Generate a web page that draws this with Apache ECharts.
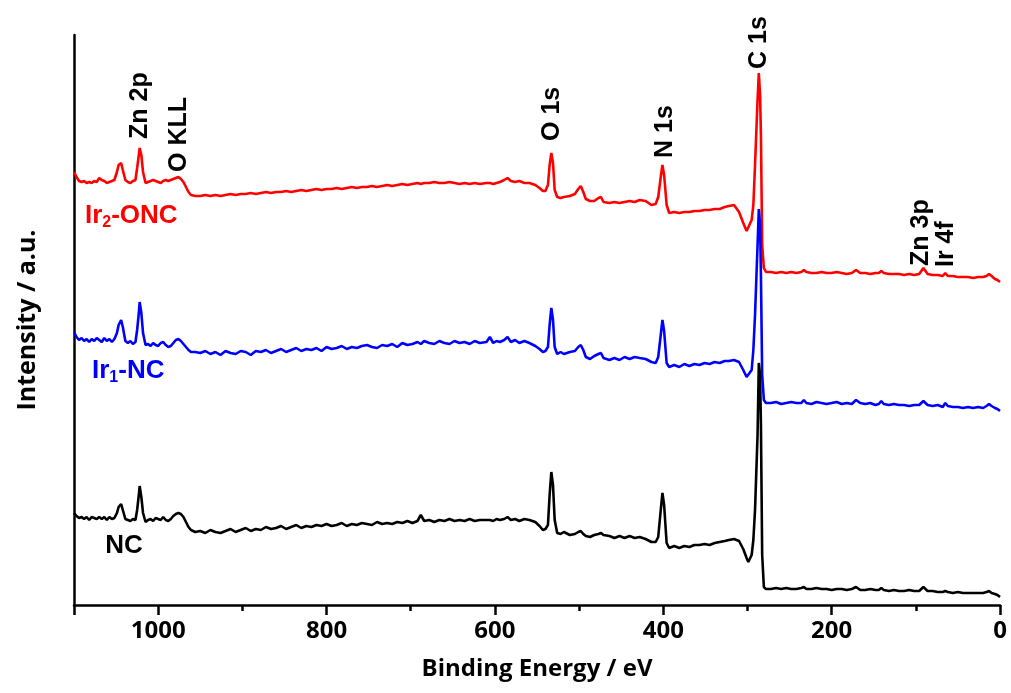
<!DOCTYPE html>
<html>
<head>
<meta charset="utf-8">
<script src="https://cdn.jsdelivr.net/npm/echarts@6/dist/echarts.min.js"></script>
<style>
  html, body { margin: 0; padding: 0; background: #fff; }
  #chart { width: 1011px; height: 693px; }
</style>
</head>
<body>
<div id="chart"></div>
<script>
// XPS survey spectra; binding energy (eV) shared by all three samples
const energy = [
  1100, 1097, 1094, 1091, 1088, 1085, 1082, 1079, 1076, 1073, 1070, 1067, 1064, 1061, 1058, 1055, 1052,
  1049, 1047, 1044, 1042, 1039, 1036, 1033, 1030, 1027, 1025, 1023, 1022, 1020, 1018, 1015,
  1012, 1009, 1006, 1003, 1000, 997, 994, 991, 988, 985, 982, 979, 976, 973, 970, 967, 964, 961,
  956, 950, 944, 938, 932, 926, 920, 914, 908, 902, 896, 890, 884, 878, 872, 866, 860, 854, 848, 842,
  836, 830, 824, 818, 812, 806, 800, 794, 788, 782, 776, 770, 764, 758, 752, 746, 740, 734, 728, 722,
  716, 710, 704, 698, 692, 688, 684, 678, 672, 666, 660, 654, 648, 642, 636, 630, 624, 618,
  610, 606, 602, 598, 594, 589, 585, 581, 576, 571, 565, 559, 552, 547, 543, 540, 537, 535, 533, 531,
  529, 526, 522, 518, 511, 505, 501, 498, 495, 492, 487, 482, 477, 474, 471, 464, 458, 452, 446, 440,
  434, 428, 421, 414, 409, 406, 403, 401, 399, 396, 393, 387, 381, 375, 369, 363, 357, 351, 345, 339,
  333, 327, 322, 316, 310, 305, 301, 299, 295, 293, 291, 288, 286.5, 285, 284, 282.5, 280.5, 278,
  272, 266, 260, 254, 248, 242, 236, 233, 230, 224, 218, 212, 206, 200, 194, 188, 182, 176, 171, 166,
  160, 154, 148, 144, 141, 138, 132, 126, 120, 114, 108, 102, 96, 91, 86, 80, 74, 68, 65, 62,
  56, 50, 44, 38, 32, 26, 20, 16, 13, 10, 6, 3, 0
];

// Intensities (a.u.), vertically offset so the spectra are stacked
const ir2ONC = [
  433, 428, 424, 423, 424, 422, 423, 422, 424, 423, 427, 425, 424, 422, 423, 424, 425,
  433, 440, 442, 435, 425, 423, 422, 424, 425, 437, 450, 457, 450, 433, 422,
  423, 424, 425, 424, 423, 422, 424, 425, 424, 425, 426, 427, 428, 426, 423, 418, 413, 410,
  409, 409, 410, 409, 410, 409, 410, 411, 410, 411, 411, 412, 411, 412, 413, 412, 413, 413, 414, 413,
  414, 415, 414, 415, 416, 415, 416, 416, 417, 416, 417, 418, 417, 418, 418, 419, 418, 419, 420, 419,
  420, 421, 420, 421, 422, 421, 422, 422, 423, 422, 422, 423, 422, 421, 422, 421, 422, 421,
  422, 422, 421, 422, 423, 425, 427, 424, 423, 424, 422, 422, 420, 417, 414, 414, 420, 440, 452, 442,
  415, 408, 407, 408, 409, 411, 416, 419, 413, 406, 404, 404, 407, 408, 403, 402, 403, 402, 403, 404,
  403, 405, 404, 400, 401, 408, 428, 440, 430, 400, 392, 393, 392, 393, 393, 394, 394, 395, 395, 396,
  396, 398, 399, 400, 393, 382, 374, 375, 385, 400, 440, 505, 532, 510, 470, 360, 337, 333,
  333, 332, 333, 332, 333, 332, 333, 335, 333, 332, 332, 333, 332, 332, 333, 332, 331, 332, 335, 332,
  332, 331, 332, 332, 334, 332, 331, 331, 331, 330, 331, 330, 331, 337, 331, 330, 330, 329, 332, 329,
  329, 328, 328, 328, 327, 328, 328, 329, 331, 329, 326, 325, 323
];

const ir1NC = [
  273, 268, 265, 267, 264, 266, 263, 266, 264, 267, 265, 263, 267, 264, 266, 263, 266,
  272, 280, 285, 278, 264, 262, 264, 261, 263, 275, 292, 303, 292, 272, 260,
  261, 259, 262, 260, 259, 262, 263, 260, 258, 259, 262, 265, 266, 264, 261, 258, 255, 253,
  253, 252, 254, 251, 253, 250, 254, 252, 251, 254, 253, 250, 254, 253, 255, 252, 254, 256, 253, 255,
  257, 254, 256, 255, 257, 254, 258, 256, 257, 259, 256, 258, 257, 259, 260, 258, 257, 260, 259, 261,
  258, 262, 260, 261, 263, 261, 264, 262, 261, 264, 262, 261, 264, 262, 263, 261, 264, 262,
  263, 268, 262, 264, 263, 265, 268, 263, 265, 262, 264, 262, 259, 256, 253, 254, 258, 280, 297, 285,
  258, 251, 253, 251, 253, 254, 258, 260, 255, 248, 246, 249, 251, 252, 247, 245, 247, 245, 248, 246,
  248, 247, 246, 243, 242, 248, 270, 285, 274, 242, 238, 240, 238, 241, 239, 241, 240, 242, 241, 243,
  242, 244, 244, 245, 243, 235, 228, 226, 235, 255, 290, 360, 396, 380, 330, 230, 205, 202,
  202, 203, 201, 202, 203, 202, 202, 205, 202, 201, 203, 202, 201, 202, 203, 201, 202, 201, 205, 202,
  201, 202, 200, 201, 204, 201, 200, 201, 200, 200, 199, 200, 200, 204, 200, 199, 200, 198, 202, 199,
  198, 198, 197, 198, 197, 198, 197, 199, 201, 199, 197, 196, 194
];

const nc = [
  92, 89, 87, 88, 86, 88, 85, 88, 87, 86, 88, 86, 88, 85, 88, 86, 87,
  92, 98, 101, 95, 86, 85, 84, 86, 85, 95, 110, 119, 108, 92, 83,
  85, 86, 84, 87, 86, 85, 88, 85, 84, 86, 89, 91, 92, 91, 88, 83, 78, 75,
  73, 74, 72, 75, 73, 72, 74, 76, 73, 75, 77, 74, 76, 75, 78, 76, 77, 79, 76, 78,
  80, 77, 79, 78, 80, 79, 81, 79, 80, 82, 79, 81, 80, 82, 81, 80, 83, 81, 82, 81,
  83, 82, 84, 82, 84, 90, 84, 85, 83, 85, 84, 86, 84, 85, 84, 86, 84, 85,
  85, 85, 84, 86, 85, 86, 88, 85, 86, 84, 86, 85, 83, 79, 75, 76, 80, 110, 133, 120,
  85, 72, 71, 73, 70, 71, 73, 74, 71, 69, 68, 70, 71, 72, 70, 69, 67, 69, 67, 69,
  67, 68, 66, 63, 63, 68, 95, 112, 100, 62, 57, 59, 57, 59, 58, 60, 60, 61, 60, 62,
  63, 64, 65, 66, 64, 56, 47, 43, 50, 65, 95, 170, 242, 230, 180, 50, 18, 16,
  16, 17, 16, 17, 16, 16, 17, 18, 16, 16, 17, 16, 16, 15, 16, 16, 15, 16, 18, 15,
  15, 16, 15, 15, 17, 15, 14, 15, 14, 14, 15, 14, 14, 18, 14, 14, 13, 13, 14, 13,
  12, 13, 12, 12, 12, 12, 12, 13, 14, 12, 11, 10, 8
];

// Peak assignments: [label, energy, intensity where the text starts]
const peakLabels = [
  ['Zn 2p', 1022, 466],
  ['O KLL', 975, 433],
  ['O 1s', 532, 464],
  ['N 1s', 397.5, 447],
  ['C 1s', 286, 536],
  ['Zn 3p', 93.7, 339],
  ['Ir 4f', 64, 338]
];

// Sample names: [rich text, colour, energy, intensity]
const sampleLabels = [
  ['{m|Ir}{s|2}{m|-ONC}', '#ff0000', 1087, 389],
  ['{m|Ir}{s|1}{m|-NC}', '#0000ff', 1078.6, 234],
  ['{m|NC}', '#000000', 1063, 59]
];

const zip = (vals) => energy.map((e, i) => [e, vals[i]]);

const axisFont = { fontFamily: 'Open Sans', fontWeight: 'bold', color: '#000' };
const axisLineStyle = { color: '#000', width: 2.5 };

const chart = echarts.init(document.getElementById('chart'), null, { renderer: 'canvas' });

const lineSeries = (name, vals, color) => ({
  name, type: 'line', data: zip(vals), showSymbol: false, smooth: false,
  lineStyle: { color, width: 2.6 }, itemStyle: { color }, silent: true
});

chart.setOption({
  animation: false,
  backgroundColor: '#fff',
  grid: { left: 74, right: 11, top: 35, bottom: 88 },
  xAxis: {
    type: 'value', inverse: true, min: 0, max: 1100, interval: 200,
    axisLine: { lineStyle: axisLineStyle },
    axisTick: { length: 10, lineStyle: axisLineStyle },
    minorTick: { show: true, splitNumber: 2, length: 6, lineStyle: axisLineStyle },
    axisLabel: Object.assign({ fontSize: 24, margin: 14, showMaxLabel: false,
      formatter: (v) => String(v) }, axisFont),
    splitLine: { show: false },
    name: 'Binding Energy / eV', nameLocation: 'middle', nameGap: 52,
    nameTextStyle: Object.assign({ fontSize: 24 }, axisFont)
  },
  yAxis: {
    type: 'value', min: 0, max: 570,
    axisLine: { show: true, onZero: false, lineStyle: axisLineStyle },
    axisTick: { show: false }, axisLabel: { show: false }, splitLine: { show: false },
    name: 'Intensity / a.u.', nameLocation: 'middle', nameGap: 34, nameRotate: 90,
    nameTextStyle: Object.assign({ fontSize: 25 }, axisFont)
  },
  series: [
    lineSeries('Ir2-ONC', ir2ONC, '#ff0000'),
    lineSeries('Ir1-NC', ir1NC, '#0000ff'),
    lineSeries('NC', nc, '#000000')
  ]
});

const toPx = (e, v) => chart.convertToPixel({ gridIndex: 0 }, [e, v]);

const graphics = [];
peakLabels.forEach(([text, e, v]) => {
  const [x, y] = toPx(e, v);
  graphics.push({
    type: 'text', x, y, rotation: Math.PI / 2, silent: true,
    style: {
      text, fill: '#000', font: 'bold 25px "Liberation Sans", Arial, sans-serif',
      textAlign: 'left', textVerticalAlign: 'middle'
    }
  });
});
sampleLabels.forEach(([text, color, e, v]) => {
  const [x, y] = toPx(e, v);
  graphics.push({
    type: 'text', x, y, silent: true,
    style: {
      text, fill: color, textAlign: 'left', textVerticalAlign: 'middle',
      rich: {
        m: { fontFamily: 'Liberation Sans', fontWeight: 'bold', fontSize: 26, fill: color, lineHeight: 30, verticalAlign: 'middle' },
        s: { fontFamily: 'Liberation Sans', fontWeight: 'bold', fontSize: 16, fill: color, lineHeight: 30, verticalAlign: 'bottom' }
      }
    }
  });
});
chart.setOption({ graphic: graphics });
</script>
</body>
</html>
